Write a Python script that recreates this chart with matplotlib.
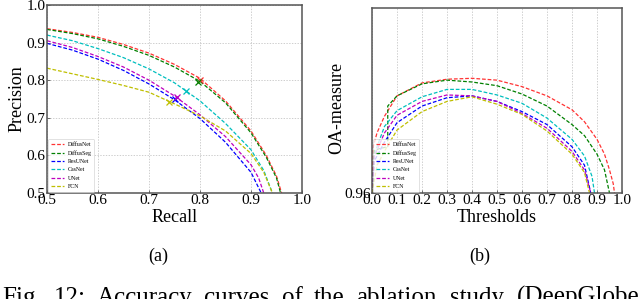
import matplotlib
matplotlib.use("Agg")
import matplotlib.pyplot as plt

plt.rcParams['font.family'] = ['Liberation Serif', 'DejaVu Serif']

names = ['DiffusNet', 'DiffusSeg', 'ResUNet', 'CasNet', 'UNet', 'FCN']
colors = ['#ff3333', 'g', 'b', 'c', 'm', 'y']

# ---- (a) Precision-Recall ----
recall_diffusnet = [0.5, 0.55, 0.6, 0.65, 0.7, 0.75, 0.8, 0.85, 0.9, 0.93, 0.95, 0.96]
prec_diffusnet = [0.937, 0.927, 0.914, 0.895, 0.872, 0.842, 0.805, 0.745, 0.665, 0.600, 0.545, 0.5]
recall_diffusseg = [0.5, 0.55, 0.6, 0.65, 0.7, 0.75, 0.8, 0.85, 0.9, 0.93, 0.95, 0.958]
prec_diffusseg = [0.935, 0.924, 0.910, 0.890, 0.866, 0.835, 0.797, 0.740, 0.660, 0.595, 0.540, 0.5]
recall_resunet = [0.5, 0.55, 0.6, 0.65, 0.7, 0.75, 0.8, 0.85, 0.9, 0.92]
prec_resunet = [0.898, 0.880, 0.856, 0.826, 0.790, 0.748, 0.698, 0.635, 0.555, 0.5]
recall_casnet = [0.5, 0.55, 0.6, 0.65, 0.7, 0.75, 0.8, 0.85, 0.9, 0.925, 0.942]
prec_casnet = [0.920, 0.905, 0.884, 0.860, 0.830, 0.793, 0.745, 0.685, 0.615, 0.560, 0.5]
recall_unet = [0.5, 0.55, 0.6, 0.65, 0.7, 0.75, 0.8, 0.85, 0.9, 0.915, 0.925]
prec_unet = [0.905, 0.887, 0.863, 0.835, 0.800, 0.758, 0.708, 0.650, 0.575, 0.540, 0.5]
recall_fcn = [0.5, 0.55, 0.6, 0.65, 0.7, 0.75, 0.8, 0.85, 0.9, 0.925, 0.942]
prec_fcn = [0.832, 0.817, 0.802, 0.786, 0.768, 0.737, 0.705, 0.665, 0.605, 0.555, 0.5]

mark_recall = [0.800, 0.797, 0.750, 0.772, 0.755, 0.740]
mark_prec = [0.801, 0.796, 0.750, 0.772, 0.755, 0.742]

# ---- (b) OA-measure vs thresholds ----
thr_diffusnet = [0.0, 0.005, 0.02, 0.05, 0.1, 0.2, 0.3, 0.4, 0.5, 0.6, 0.7, 0.8, 0.85, 0.9, 0.93, 0.95, 0.965, 0.97]
oa_diffusnet = [0.960, 0.9650, 0.9665, 0.9683, 0.9705, 0.9719, 0.9723, 0.9724, 0.9722, 0.9715, 0.9705, 0.9690, 0.9677, 0.9658, 0.9642, 0.9625, 0.961, 0.960]
thr_diffusseg = [0.0, 0.01, 0.03, 0.063, 0.063, 0.1, 0.2, 0.3, 0.4, 0.5, 0.6, 0.7, 0.8, 0.85, 0.9, 0.93, 0.95]
oa_diffusseg = [0.960, 0.9646, 0.9648, 0.9650, 0.9694, 0.9705, 0.9718, 0.9722, 0.9720, 0.9716, 0.9707, 0.9694, 0.9674, 0.9662, 0.9642, 0.9625, 0.960]
thr_resunet = [0.0, 0.01, 0.05, 0.1, 0.2, 0.3, 0.4, 0.5, 0.6, 0.7, 0.8, 0.85, 0.875]
oa_resunet = [0.960, 0.9635, 0.9655, 0.9676, 0.9694, 0.9703, 0.9705, 0.9699, 0.9688, 0.9674, 0.9650, 0.9630, 0.960]
thr_casnet = [0.0, 0.01, 0.02, 0.05, 0.1, 0.2, 0.3, 0.4, 0.5, 0.6, 0.7, 0.8, 0.85, 0.88, 0.89]
oa_casnet = [0.960, 0.9640, 0.9650, 0.9672, 0.9689, 0.9704, 0.9712, 0.9712, 0.9706, 0.9697, 0.9681, 0.9658, 0.9640, 0.9618, 0.960]
thr_unet = [0.0, 0.01, 0.05, 0.1, 0.2, 0.3, 0.4, 0.5, 0.6, 0.7, 0.8, 0.85, 0.875]
oa_unet = [0.960, 0.9640, 0.9665, 0.9684, 0.9699, 0.9706, 0.9705, 0.9699, 0.9686, 0.9670, 0.9645, 0.9625, 0.960]
thr_fcn = [0.0, 0.02, 0.06, 0.1, 0.2, 0.3, 0.4, 0.5, 0.6, 0.7, 0.8, 0.85, 0.87]
oa_fcn = [0.960, 0.9630, 0.9650, 0.9668, 0.9688, 0.9699, 0.9704, 0.9696, 0.9685, 0.9667, 0.9642, 0.9622, 0.960]

caption_words = ['Fig.', '12:', 'Accuracy', 'curves', 'of', 'the', 'ablation', 'study', '(DeepGlobe']

pr_x = [recall_diffusnet, recall_diffusseg, recall_resunet, recall_casnet, recall_unet, recall_fcn]
pr_y = [prec_diffusnet, prec_diffusseg, prec_resunet, prec_casnet, prec_unet, prec_fcn]
th_x = [thr_diffusnet, thr_diffusseg, thr_resunet, thr_casnet, thr_unet, thr_fcn]
th_y = [oa_diffusnet, oa_diffusseg, oa_resunet, oa_casnet, oa_unet, oa_fcn]

fig = plt.figure(figsize=(6.4, 2.99), dpi=100)
W, H = 640.0, 299.0
ax1 = fig.add_axes([47 / W, 1 - 193 / H, 255 / W, 188 / H])
ax2 = fig.add_axes([372 / W, 1 - 193 / H, 250 / W, 185 / H])

frame_col = '#555555'
for ax in (ax1, ax2):
    for s in ax.spines.values():
        s.set_color(frame_col)
        s.set_linewidth(1.1)
    ax.tick_params(direction='in', length=2, width=0.6, colors=frame_col,
                   labelcolor='black', labelsize=11, pad=1)

# (a)
for i in range(6):
    ax1.plot(pr_x[i], pr_y[i], color=colors[i], ls='--', lw=0.9, label=names[i], dashes=(3, 1.5))
for i in range(6):
    ax1.plot(mark_recall[i], mark_prec[i], marker='x', color=colors[i], ms=5, mew=0.9, ls='none')
ax1.set_xlim(0.5, 1.0)
ax1.set_ylim(0.5, 1.0)
ax1.set_xticks([0.5, 0.6, 0.7, 0.8, 0.9, 1.0])
ax1.set_yticks([0.5, 0.6, 0.7, 0.8, 0.9, 1.0])
ax1.grid(True, color='#bbbbbb', ls='--', lw=0.5, dashes=(2, 2))
ax1.set_xlabel('Recall', fontsize=13, labelpad=1)
ax1.set_ylabel('Precision', fontsize=13)
ax1.yaxis.set_label_coords(-0.086, 0.5)
leg1 = ax1.legend(loc='lower left', fontsize=4.2, frameon=True, handlelength=2.2,
                  borderpad=0.5, labelspacing=0.55, handletextpad=0.6, borderaxespad=0.2)
leg1.get_frame().set_edgecolor('#cccccc')
leg1.get_frame().set_linewidth(0.5)

# (b)
for i in range(6):
    ax2.plot(th_x[i], th_y[i], color=colors[i], ls='--', lw=0.9, label=names[i], dashes=(3, 1.5))
ax2.set_xlim(0.0, 1.0)
ax2.set_ylim(0.96, 0.98)
ax2.set_xticks([0.0, 0.1, 0.2, 0.3, 0.4, 0.5, 0.6, 0.7, 0.8, 0.9, 1.0])
ax2.set_yticks([0.96])
ax2.grid(True, axis='x', color='#bbbbbb', ls='--', lw=0.5, dashes=(2, 2))
ax2.set_xlabel('Thresholds', fontsize=13, labelpad=1)
ax2.set_ylabel('OA-measure', fontsize=13)
ax2.yaxis.set_label_coords(-0.108, 0.46)
leg2 = ax2.legend(loc='lower left', fontsize=4.2, frameon=True, handlelength=2.2,
                  borderpad=0.5, labelspacing=0.55, handletextpad=0.6, borderaxespad=0.2)
leg2.get_frame().set_edgecolor('#cccccc')
leg2.get_frame().set_linewidth(0.5)

fig.text(158 / W, 1 - 256 / H, '(a)', ha='center', va='center', fontsize=13)
fig.text(480 / W, 1 - 256 / H, '(b)', ha='center', va='center', fontsize=13)

# justified caption line (cut off at the bottom edge as in the reference)
word_x = [2, 54, 97, 204, 282, 314, 356, 450, 517]
for wd, xp in zip(caption_words, word_x):
    fig.text(xp / W, 1 - 304 / H, wd, ha='left', va='baseline', fontsize=18)

fig.savefig('out.png', dpi=100)
